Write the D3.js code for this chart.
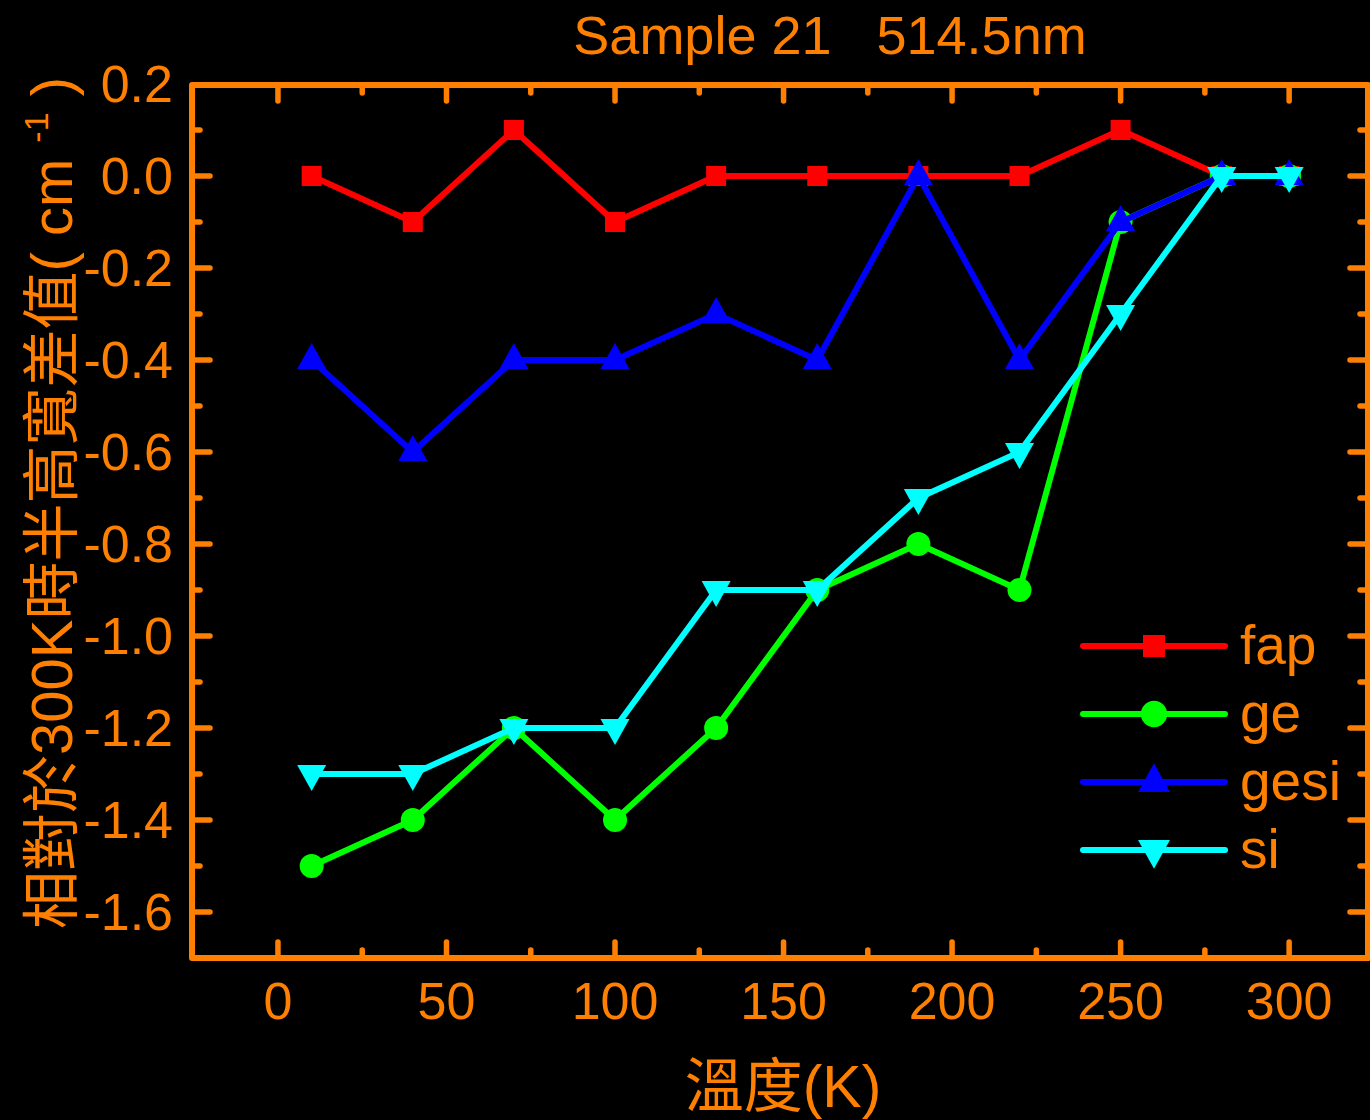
<!DOCTYPE html>
<html>
<head>
<meta charset="utf-8">
<script src="https://cdn.jsdelivr.net/npm/d3@7"></script>
<style>
  body { margin: 0; background: #000; }
  svg { display: block; }
  text { font-family: "Liberation Sans", Arial, "Noto Sans CJK TC", sans-serif; fill: #ff8000; }
</style>
</head>
<body>
<div id="chart"></div>
<script>
// data
var temps = [10, 40, 70, 100, 130, 160, 190, 220, 250, 280, 300];
var fap  = [0, -0.1, 0.1, -0.1, 0, 0, 0, 0, 0.1, 0, 0];
var ge   = [-1.5, -1.4, -1.2, -1.4, -1.2, -0.9, -0.8, -0.9, -0.1, 0, 0];
var gesi = [-0.4, -0.6, -0.4, -0.4, -0.3, -0.4, 0, -0.4, -0.1, 0, 0];
var si   = [-1.3, -1.3, -1.2, -1.2, -0.9, -0.9, -0.7, -0.6, -0.3, 0, 0];
var seriesNames = ["fap", "ge", "gesi", "si"];
var seriesColors = ["#ff0000", "#00ff00", "#0000ff", "#00ffff"];
var xTicks = [0, 50, 100, 150, 200, 250, 300];
var yTicks = [0.2, 0.0, -0.2, -0.4, -0.6, -0.8, -1.0, -1.2, -1.4, -1.6];

var W = 1370, H = 1120;
var pLeft = 192, pRight = 1368, pTop = 85, pBottom = 958;
var orange = "#ff8000";

var svg = d3.select("#chart").append("svg")
    .attr("width", W).attr("height", H)
    .style("background", "#000");

var x = d3.scaleLinear().domain([-25.8, 323.4]).range([191, pRight]);
var y = d3.scaleLinear().domain([-1.7, 0.2]).range([pBottom, pTop - 1]);

// frame
svg.append("rect")
    .attr("x", pLeft).attr("y", pTop)
    .attr("width", pRight - pLeft).attr("height", pBottom - pTop)
    .attr("fill", "none").attr("stroke", orange).attr("stroke-width", 6)
    .attr("stroke-linejoin", "round");

// ticks, inward on all four sides
var xMinor = d3.range(-25, 325, 25);
var yMinor = d3.range(-17, 3, 1).map(function(v){ return v / 10; });

function tickLines(vals, isX, len) {
    vals.forEach(function(v){
        if (isX) {
            var px = x(v);
            if (px <= pLeft + 2 || px >= pRight - 2) return;
            svg.append("line").attr("x1", px).attr("x2", px).attr("y1", pBottom).attr("y2", pBottom - len)
                .attr("stroke", orange).attr("stroke-width", 5.5).attr("stroke-linecap", "round");
            svg.append("line").attr("x1", px).attr("x2", px).attr("y1", pTop).attr("y2", pTop + len)
                .attr("stroke", orange).attr("stroke-width", 5.5).attr("stroke-linecap", "round");
        } else {
            var py = y(v);
            if (py <= pTop + 2 || py >= pBottom - 2) return;
            svg.append("line").attr("x1", pLeft).attr("x2", pLeft + len).attr("y1", py).attr("y2", py)
                .attr("stroke", orange).attr("stroke-width", 5.5).attr("stroke-linecap", "round");
            svg.append("line").attr("x1", pRight).attr("x2", pRight - len).attr("y1", py).attr("y2", py)
                .attr("stroke", orange).attr("stroke-width", 5.5).attr("stroke-linecap", "round");
        }
    });
}
tickLines(xMinor.filter(function(v){ return v % 50 !== 0; }), true, 8);
tickLines(xTicks, true, 16);
tickLines(yMinor.filter(function(v){ return Math.round(v * 10) % 2 !== 0; }), false, 8);
tickLines(yTicks, false, 18);

// tick labels
svg.selectAll(".xl").data(xTicks).enter().append("text")
    .attr("x", function(d){ return x(d); })
    .attr("y", 1019)
    .attr("text-anchor", "middle")
    .style("font-size", "52px")
    .text(function(d){ return d; });

svg.selectAll(".yl").data(yTicks).enter().append("text")
    .attr("x", 173)
    .attr("y", function(d){ return y(d) + 18; })
    .attr("text-anchor", "end")
    .style("font-size", "52px")
    .text(function(d){ return d3.format(".1f")(d).replace("−", "-"); });

// title and axis titles
svg.append("text").attr("x", 830).attr("y", 54).attr("text-anchor", "middle")
    .style("font-size", "54px").attr("xml:space", "preserve")
    .text("Sample 21   514.5nm");

svg.append("text").attr("x", 783).attr("y", 1107).attr("text-anchor", "middle")
    .style("font-size", "59px")
    .text("溫度(K)");

var ylab = svg.append("text")
    .attr("transform", "translate(72,503) rotate(-90)")
    .attr("text-anchor", "middle")
    .style("font-size", "58px")
    .attr("xml:space", "preserve");
ylab.append("tspan").text("相對於300K時半高寬差值( cm ");
ylab.append("tspan").attr("dy", -24).style("font-size", "34px").text("-1");
ylab.append("tspan").attr("dy", 24).text(" )");

// series
var allSeries = [fap, ge, gesi, si];
var line = d3.line().x(function(d){ return x(d[0]); }).y(function(d){ return y(d[1]); });

function drawMarker(g, kind, color, cx, cy, s) {
    if (kind === 0) {
        g.append("rect").attr("x", cx - 10 * s).attr("y", cy - 10 * s).attr("width", 20 * s).attr("height", 20 * s).attr("fill", color);
    } else if (kind === 1) {
        g.append("circle").attr("cx", cx).attr("cy", cy).attr("r", 12 * s).attr("fill", color);
    } else if (kind === 2) {
        g.append("path").attr("d", "M" + cx + "," + (cy - 17 * s) + "L" + (cx + 14.5 * s) + "," + (cy + 9 * s) + "L" + (cx - 14.5 * s) + "," + (cy + 9 * s) + "Z").attr("fill", color);
    } else {
        g.append("path").attr("d", "M" + cx + "," + (cy + 17 * s) + "L" + (cx + 14.5 * s) + "," + (cy - 9 * s) + "L" + (cx - 14.5 * s) + "," + (cy - 9 * s) + "Z").attr("fill", color);
    }
}

allSeries.forEach(function(vals, i){
    var pts = temps.map(function(t, j){ return [t, vals[j]]; });
    var g = svg.append("g");
    g.append("path").attr("d", line(pts))
        .attr("fill", "none").attr("stroke", seriesColors[i])
        .attr("stroke-width", 6).attr("stroke-linecap", "round").attr("stroke-linejoin", "round");
    pts.forEach(function(p){
        drawMarker(g, i, seriesColors[i], x(p[0]), y(p[1]), 1);
    });
});

// legend
var legY = [646, 714, 782, 850];
seriesNames.forEach(function(name, i){
    var g = svg.append("g");
    g.append("line").attr("x1", 1083).attr("x2", 1225).attr("y1", legY[i]).attr("y2", legY[i])
        .attr("stroke", seriesColors[i]).attr("stroke-width", 6).attr("stroke-linecap", "round");
    drawMarker(g, i, seriesColors[i], 1154, legY[i], 1.1);
    g.append("text").attr("x", 1240).attr("y", legY[i] + 18)
        .style("font-size", "55px").text(name);
});
</script>
</body>
</html>
